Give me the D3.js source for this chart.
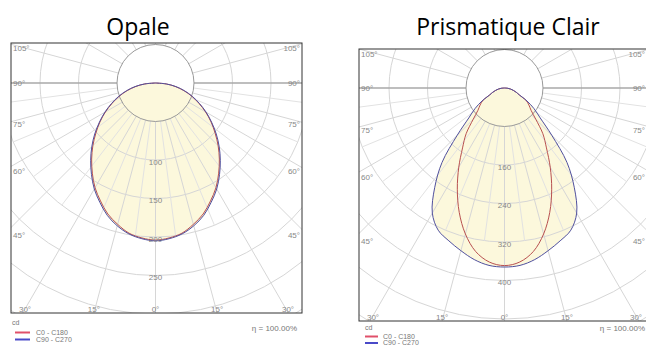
<!DOCTYPE html>
<html><head><meta charset="utf-8">
<script src="https://cdn.jsdelivr.net/npm/d3@7"></script>
<style>html,body{margin:0;padding:0;background:#fff;overflow:hidden}svg{display:block}</style>
</head><body>
<svg id="chart" width="646" height="347"></svg>
<script>
// ---- data ----
const titles = ["Opale", "Prismatique Clair"];
const gammaAngles = [0,5,10,15,20,25,30,35,40,45,50,55,60,65,70,75,80,85,90];
const opaleC0C180  = [204,202,198,190,181,169,157,143,129,115,101,88,75,62,50,38,26,14,0];
const opaleC90C270 = [205,203,199,192,183,171,159,145,131,117,103,89,76,63,51,39,27,14,0];
const prismC0C180  = [369,363,345,314,275,232,190,152,124,92,72,62,52,34,26,19,13,7,0];
const prismC90C270 = [372,370,362,350,338,326,300,253,202,139,97,75,54,34,26,19,13,7,0];
const opaleRings = [50,100,150,200,250,300,350,400];
const prismRings = [80,160,240,320,400,480,560,640];
const opaleRingLabels = [100,150,200,250];
const prismRingLabels = [160,240,320,400];
const bottomAngles = [-30,-15,0,15,30];
const bottomAngleLabels = ["30°","15°","0°","15°","30°"];
const sideAngles = [45,60,75,90,105];
const sideAngleLabels = ["45°","60°","75°","90°","105°"];
const legendLabels = ["C0 - C180","C90 - C270"];
const unitLabel = "cd";
const efficiencyLabel = "η = 100.00%";

// ---- layout ----
const W = 646;
const svg = d3.select("#chart");
const FONT = "Liberation Sans, Arial, sans-serif";
const charts = [
  {title: titles[0], titleX: 138, frame:{x:11,y:43,w:291,h:270}, origin:{x:155.5,y:83},
   rings: opaleRings, ringLabels: opaleRingLabels, c0: opaleC0C180, c90: opaleC90C270,
   legend:{x:12, cdY:323, l1:332.5, l2:339.5, textX:36, lineX0:15, lineX1:30}, eta:{x:297,y:328}},
  {title: titles[1], titleX: 508, frame:{x:359,y:49,w:291,h:272}, origin:{x:504.5,y:88},
   rings: prismRings, ringLabels: prismRingLabels, c0: prismC0C180, c90: prismC90C270,
   legend:{x:365, cdY:328, l1:336.5, l2:343, textX:383, lineX0:365, lineX1:378}, eta:{x:645,y:328}}
];
const RING_PX = 38.5;
const FILL = "#fcf8dc";
const RED = "#b85050", BLUE = "#50509e";
const rad = d => d*Math.PI/180;

charts.forEach((c, ci) => {
  const g = svg.append("g");
  const f = c.frame, o = c.origin;
  const r = d3.scaleLinear().domain([0, c.rings[0]]).range([0, RING_PX]);
  const clipId = "clip" + ci;
  svg.append("defs").append("clipPath").attr("id", clipId)
    .append("rect").attr("x", f.x).attr("y", f.y).attr("width", f.w).attr("height", f.h);

  // title
  svg.append("text").attr("x", c.titleX).attr("y", 35).attr("text-anchor","middle")
    .attr("font-family","Open Sans, sans-serif").attr("font-size", 23).attr("fill","#000")
    .text(c.title);

  const plot = g.append("g").attr("clip-path", `url(#${clipId})`);
  plot.append("rect").attr("x", f.x).attr("y", f.y).attr("width", f.w).attr("height", f.h).attr("fill","#fff");
  const inner = plot.append("g").attr("transform", `translate(${o.x},${o.y})`);

  // curve builder: left half (C180 / C270) mirrored onto right half (C0 / C90)
  const pts = vals => {
    const left = gammaAngles.map((gm,i) => ({a: Math.PI + rad(gm), v: vals[i]})).reverse();
    const right = gammaAngles.slice(1).map((gm,i) => ({a: Math.PI - rad(gm), v: vals[i+1]}));
    return left.concat(right);
  };
  const line = d3.lineRadial().angle(d => d.a).radius(d => r(d.v)).curve(d3.curveCatmullRom.alpha(0.5));

  // fills (union)
  [c.c90, c.c0].forEach(vals => {
    inner.append("path").attr("d", line(pts(vals)) + "Z").attr("fill", FILL).attr("stroke","none");
  });

  // ring grid
  inner.selectAll("circle.ring").data(c.rings.slice(1)).join("circle")
    .attr("r", d => r(d)).attr("fill","none").attr("stroke","#d6d6d6").attr("stroke-width",1);

  // radial lines
  const r0 = r(c.rings[0]);
  const major = d3.range(-180, 180, 15).filter(a => Math.abs(a) !== 90);
  inner.selectAll("line.major").data(major).join("line")
    .attr("x1", a => r0*Math.sin(rad(a))).attr("y1", a => r0*Math.cos(rad(a)))
    .attr("x2", a => 600*Math.sin(rad(a))).attr("y2", a => 600*Math.cos(rad(a)))
    .attr("stroke","#d6d6d6").attr("stroke-width",1);
  const minor = d3.range(-82.5, 90, 15);
  const rMinor = r(c.rings[3]);
  inner.selectAll("line.minor").data(minor).join("line")
    .attr("x1", a => r0*Math.sin(rad(a))).attr("y1", a => r0*Math.cos(rad(a)))
    .attr("x2", a => rMinor*Math.sin(rad(a))).attr("y2", a => rMinor*Math.cos(rad(a)))
    .attr("stroke","#e2e2e2").attr("stroke-width",1);

  // 90° line and inner circle
  [-1, 1].forEach(s => {
    inner.append("line").attr("x1", s*r0).attr("y1",0).attr("x2", s*600).attr("y2",0)
      .attr("stroke","#a8a8a8").attr("stroke-width",1.5);
  });
  inner.append("circle").attr("r", r0).attr("fill","none").attr("stroke","#9a9a9a").attr("stroke-width",1);

  // curves
  inner.append("path").attr("d", line(pts(c.c0)) + "Z").attr("fill","none").attr("stroke",RED).attr("stroke-width",1);
  inner.append("path").attr("d", line(pts(c.c90)) + "Z").attr("fill","none").attr("stroke",BLUE).attr("stroke-width",1);

  // ring labels
  inner.selectAll("text.rl").data(c.ringLabels).join("text")
    .attr("x", 0).attr("y", d => r(d) + 2).attr("dy","0.35em").attr("text-anchor","middle")
    .attr("font-family", FONT).attr("font-size", 8).attr("fill","#888").text(d => d);

  // bottom angle labels
  const bottomDy = f.y + f.h - o.y;
  plot.selectAll("text.bl").data(bottomAngles).join("text")
    .attr("x", (a) => {
      const x = o.x + bottomDy*Math.tan(rad(a));
      return Math.max(f.x + 14, Math.min(f.x + f.w - 14, x));
    })
    .attr("y", f.y + f.h - 3.5).attr("dy","0.35em").attr("text-anchor","middle")
    .attr("font-family", FONT).attr("font-size", 8).attr("fill","#888")
    .text((a,i) => bottomAngleLabels[i]);

  // side angle labels
  const sideDx = o.x - f.x;
  const sideY = a => {
    const yy = o.y + sideDx/Math.tan(rad(a)) + 10.5*Math.max(0, Math.cos(rad(a)));
    return Math.max(f.y + 5, yy);
  };
  [["start", f.x + 2], ["end", Math.min(f.x + f.w - 2, W - 1)]].forEach(([anchor, x]) => {
    g.selectAll(null).data(sideAngles).join("text")
      .attr("x", x).attr("y", a => sideY(a)).attr("dy","0.35em").attr("text-anchor", anchor)
      .attr("font-family", FONT).attr("font-size", 8).attr("fill","#888")
      .text((a,i) => sideAngleLabels[i]);
  });

  // frame
  g.append("rect").attr("x", f.x).attr("y", f.y).attr("width", f.w).attr("height", f.h)
    .attr("fill","none").attr("stroke","#333").attr("stroke-width",1);

  // legend
  const L = c.legend;
  g.append("text").attr("x", L.x).attr("y", L.cdY).attr("dy","0.35em")
    .attr("font-family", FONT).attr("font-size", 7).attr("fill","#777").text(unitLabel);
  [[L.l1, "#e0506a", legendLabels[0]], [L.l2, "#4a4ac8", legendLabels[1]]].forEach(([y, col, txt]) => {
    g.append("line").attr("x1", L.lineX0).attr("x2", L.lineX1).attr("y1", y).attr("y2", y)
      .attr("stroke", col).attr("stroke-width", 2);
    g.append("text").attr("x", L.textX).attr("y", y).attr("dy","0.35em")
      .attr("font-family", FONT).attr("font-size", 7).attr("fill","#777").text(txt);
  });
  g.append("text").attr("x", c.eta.x).attr("y", c.eta.y).attr("dy","0.35em").attr("text-anchor","end")
    .attr("font-family", FONT).attr("font-size", 8).attr("fill","#777").text(efficiencyLabel);
});
</script>
</body></html>
